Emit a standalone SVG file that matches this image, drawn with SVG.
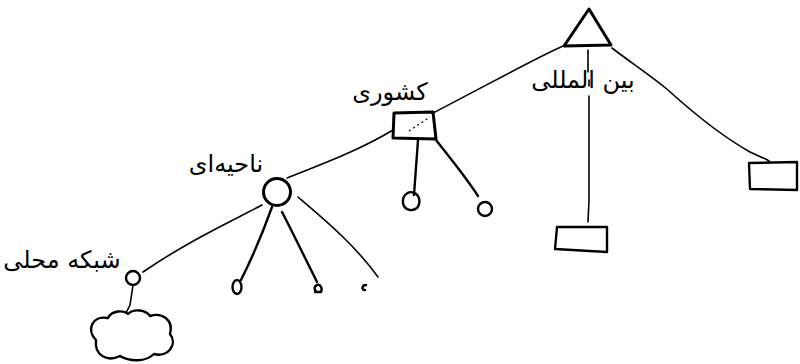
<svg xmlns="http://www.w3.org/2000/svg" width="800" height="364" viewBox="0 0 800 364">
  <style>
    .ink { fill: none; stroke: #000; stroke-width: 2.4; stroke-linecap: round; stroke-linejoin: round; }
    .thin { fill: none; stroke: #000; stroke-width: 1.6; stroke-linecap: round; }
    .dash { fill: none; stroke: #000; stroke-width: 1.2; stroke-dasharray: 2 3; }
    .lbl { font-family: "DejaVu Sans", "Noto Sans", sans-serif; font-size: 24px; fill: #000; direction: rtl; text-anchor: middle; }
    .mark { font-family: "DejaVu Sans", sans-serif; font-size: 14px; fill: #000; font-weight: bold; text-anchor: middle; }
  </style>

  <!-- links between levels -->
  <g id="connectors">
    <path class="thin" d="M563,46 C540,56 500,78 433,113"/>
    <path class="thin" d="M612,48 C630,62 650,75 668,90 C690,110 720,135 750,152 C760,157 768,159 770,162"/>
    <path class="thin" d="M588,50 L588,72 M589,80 L589,86 M589,96 L589,200 L588,222"/>
    <path class="thin" d="M393,130 C360,150 320,165 287,178"/>
    <path class="thin" d="M262,205 C230,222 190,240 143,272"/>
    <path class="thin" d="M133,285 L130,305 L126,313"/>
    <path class="ink" d="M272,207 C262,235 252,258 241,280"/>
    <path class="ink" d="M282,212 C294,235 305,258 317,282"/>
    <path class="thin" d="M298,197 C325,220 355,245 378,277"/>
    <path class="ink" d="M418,140 L414,195"/>
    <path class="ink" d="M436,140 C450,158 465,176 478,196"/>
  </g>

  <!-- international level -->
  <g id="international">
    <path class="ink" d="M589,9 L611,45 L564,46 Z" style="stroke-width:3"/>
    <text class="lbl" x="583" y="88">بین المللی</text>
  </g>

  <!-- national level -->
  <g id="national">
    <path class="ink" d="M394,113 L433,112 L436,139 L393,138 Z" style="stroke-width:3"/>
    <path class="dash" d="M409,131 L430,117"/>
    <text class="lbl" x="390" y="100">کشوری</text>
  </g>

  <!-- regional level -->
  <g id="regional">
    <circle class="ink" cx="277" cy="192" r="13.5" style="stroke-width:3"/>
    <text class="lbl" x="226" y="172">ناحیه‌ای</text>
  </g>

  <!-- local network -->
  <g id="local">
    <circle class="ink" cx="133" cy="278" r="7"/>
    <path class="ink" d="M96,340 C86,330 92,315 108,318 C112,310 124,310 128,314 C134,308 146,310 150,316 C162,312 174,320 170,334 C178,344 168,358 154,354 C146,362 130,362 120,356 C108,362 94,356 96,340 Z"/>
    <text class="lbl" x="62" y="268">شبکه محلی</text>
  </g>

  <!-- end stations under the national node -->
  <g id="national-end-1">
    <path class="ink" d="M414,193 C408,190 402,196 403,203 C404,210 412,212 417,208 C421,203 420,195 414,193 Z"/>
  </g>
  <g id="national-end-2">
    <circle class="ink" cx="485" cy="209" r="7"/>
  </g>

  <!-- end stations under the regional node -->
  <g id="regional-end-1">
    <ellipse class="ink" cx="237" cy="287" rx="4.5" ry="7"/>
  </g>
  <g id="regional-end-2">
    <path class="ink" d="M315,292 L321,292 C323,288 320,284 317,285 C314,286 314,290 316,291"/>
  </g>
  <g id="regional-end-3">
    <path class="ink" d="M366,285 C362,285 361,290 365,290"/>
  </g>

  <!-- international end stations -->
  <g id="intl-end-1">
    <path class="ink" d="M557,227 L607,227 L607,252 L555,249 Z"/>
  </g>
  <g id="intl-end-2">
    <path class="ink" d="M749,163 L797,162 L797,190 L750,189 Z"/>
  </g>
</svg>
